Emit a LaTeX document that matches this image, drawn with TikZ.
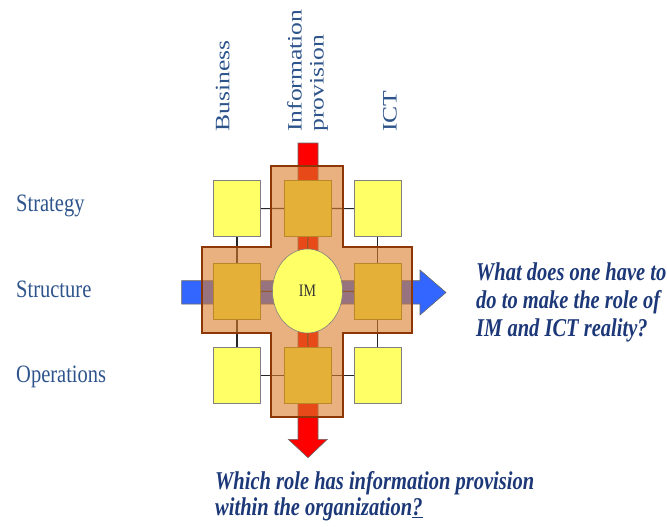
\documentclass[tikz,border=0pt]{standalone}
\usepackage{fontspec}
\setmainfont{Liberation Serif}
\usetikzlibrary{shapes.geometric}
\definecolor{labelblue}{RGB}{46,84,140}
\definecolor{qblue}{RGB}{28,56,120}
\definecolor{ylw}{RGB}{255,255,102}
\definecolor{gold}{RGB}{228,176,56}
\definecolor{goldedge}{RGB}{185,135,40}
\definecolor{crossfill}{RGB}{218,123,43}
\definecolor{crossedge}{RGB}{140,55,5}
\definecolor{arrred}{RGB}{255,0,0}
\definecolor{arrblue}{RGB}{51,102,255}
\pgfdeclarelayer{arrows}
\pgfdeclarelayer{lines}
\pgfdeclarelayer{cross}
\pgfsetlayers{arrows,lines,cross,main}
\tikzset{
  lbl/.style={inner sep=0pt, text=labelblue, font=\fontsize{20.5}{22}\selectfont},
  qtext/.style={inner sep=0pt, text=qblue, font=\fontsize{20.5}{22.4}\selectfont\bfseries\itshape},
  ybox/.style={draw=black!50, line width=0.6pt, fill=ylw, minimum width=47pt, minimum height=56pt, inner sep=0pt},
  gbox/.style={draw=goldedge, line width=0.6pt, fill=gold, minimum width=47pt, minimum height=56pt, inner sep=0pt},
  link/.style={draw=black!85, line width=1.1pt},
}
\begin{document}
\begin{tikzpicture}[x=1pt,y=-1pt]
\path[use as bounding box] (0,0) rectangle (667,527);

% boxes
\node[ybox] (tl) at (237,208.7) {};
\node[gbox] (tc) at (308,208.4) {};
\node[ybox] (tr) at (377.7,208.7) {};
\node[gbox] (ml) at (237,291.7) {};
\node[gbox] (mr) at (377.7,291.7) {};
\node[ybox] (bl) at (237,375.3) {};
\node[gbox] (bc) at (308,375.3) {};
\node[ybox] (br) at (377.7,375.3) {};
\node[ellipse, draw=black!50, line width=0.6pt, fill=ylw, minimum width=70pt, minimum height=84pt, inner sep=0pt,
      font=\fontsize{14}{16}\selectfont, text=black!80] (im) at (307.5,291) {\scalebox{1}[1.25]{IM}};

% connectors
\begin{pgfonlayer}{lines}
\draw[link] (tl) -- (tc);
\draw[link] (tc) -- (tr);
\draw[link] (bl) -- (bc);
\draw[link] (bc) -- (br);
\draw[link] (tl) -- (ml);
\draw[link] (ml) -- (bl);
\draw[link] (tr) -- (mr);
\draw[link] (mr) -- (br);
\draw[link] (ml) -- (im);
\draw[link] (im) -- (mr);
\draw[link] (tc) -- (im);
\draw[link] (im) -- (bc);
\end{pgfonlayer}

% block arrows
\begin{pgfonlayer}{arrows}
\draw[fill=arrred, draw=black!60, line width=0.6pt]
  (298,143) -- (318,143) -- (318,439.3) -- (327.3,439.3) -- (308,457.7) -- (288.3,439.3) -- (298,439.3) -- cycle;
\draw[fill=arrblue, draw=black!60, line width=0.6pt]
  (181.7,280.7) -- (420,280.7) -- (420,270) -- (446,292.5) -- (420,315) -- (420,304) -- (181.7,304) -- cycle;
\end{pgfonlayer}

% cross
\begin{pgfonlayer}{cross}
\draw[fill=crossfill, fill opacity=0.6, draw=crossedge, line width=2pt, line join=miter]
  (271,166) -- (343,166) -- (343,247.3) -- (411.7,247.3) -- (411.7,333.3) -- (343,333.3) -- (343,416.7)
  -- (271,416.7) -- (271,333.3) -- (201.7,333.3) -- (201.7,247.3) -- (271,247.3) -- cycle;
\end{pgfonlayer}

% row labels
\node[lbl, anchor=base west] (strat) at (16,211) {\scalebox{1}[1.22]{Strategy}};
\node[lbl, anchor=base west] (struc) at (16,297) {\scalebox{1}[1.22]{Structure}};
\node[lbl, anchor=base west] (oper) at (16,382) {\scalebox{1}[1.22]{Operations}};

% column headers
\node[lbl, rotate=90, anchor=base west] (bus) at (229.3,132) {\scalebox{1.25}[1]{Business}};
\node[lbl, rotate=90, anchor=base west] (info) at (301.7,132)
  {\scalebox{1.25}[1]{\begin{tabular}[t]{@{}l@{}}Information\\provision\end{tabular}}};
\node[lbl, rotate=90, anchor=base west] (ict) at (396.7,132) {\scalebox{1.25}[1]{ICT}};

% questions
\node[qtext, anchor=base west] (q1) at (476,280)
  {\scalebox{1}[1.25]{\begin{tabular}[t]{@{}l@{}}What does one have to\\do to make the role of\\IM and ICT reality?\end{tabular}}};
\node[qtext, anchor=base west, font=\fontsize{20.5}{20.8}\selectfont\bfseries\itshape] (q2) at (215,489)
  {\scalebox{1}[1.25]{\begin{tabular}[t]{@{}l@{}}Which role has information provision\\within the organization\underline{?}\end{tabular}}};
\end{tikzpicture}
\end{document}
